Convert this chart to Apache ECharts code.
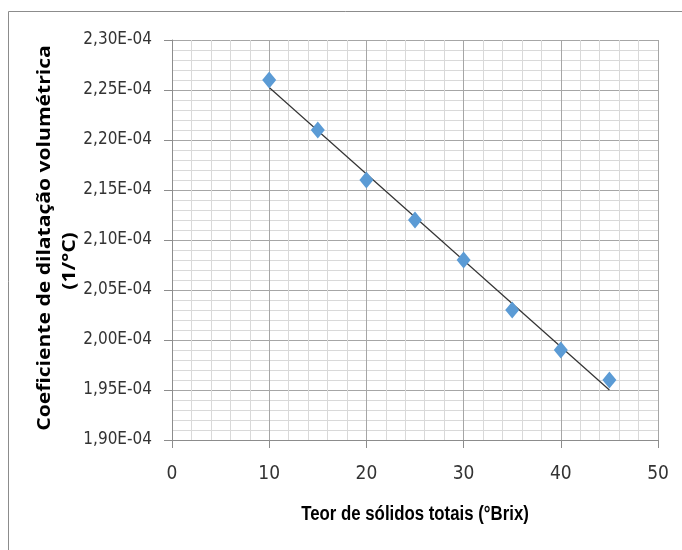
<!DOCTYPE html>
<html><head><meta charset="utf-8">
<script src="https://cdn.jsdelivr.net/npm/echarts@6/dist/echarts.min.js"></script>
<style>html,body{margin:0;padding:0;background:#fff}#c{width:682px;height:550px}</style>
</head><body><div id="c"></div>
<script>
// Teor de sólidos totais (°Brix)
const brix = [10, 15, 20, 25, 30, 35, 40, 45];
// Coeficiente de dilatação volumétrica, in units of 1E-04 (1/°C)
const coef = [2.26, 2.21, 2.16, 2.12, 2.08, 2.03, 1.99, 1.96];
const xTicks = [0, 10, 20, 30, 40, 50];
const yTicks = [1.90, 1.95, 2.00, 2.05, 2.10, 2.15, 2.20, 2.25, 2.30];
const yTitle1 = 'Coeficiente de dilatação volumétrica';
const yTitle2 = '(1/°C)';
const xTitle = 'Teor de sólidos totais (°Brix)';

// linear trendline (least squares) from the data
const n = brix.length;
const mx = brix.reduce((a, b) => a + b, 0) / n;
const my = coef.reduce((a, b) => a + b, 0) / n;
let sxy = 0, sxx = 0;
for (let i = 0; i < n; i++) { sxy += (brix[i] - mx) * (coef[i] - my); sxx += (brix[i] - mx) ** 2; }
const slope = sxy / sxx, icpt = my - slope * mx;
const xs0 = brix[0], xs1 = brix[n - 1];
const trend = [[xs0, icpt + slope * xs0], [xs1, icpt + slope * xs1]];

const tickFont = '"DejaVu Sans Condensed", "Liberation Sans Narrow", sans-serif';
const chart = echarts.init(document.getElementById('c'), null, {renderer: 'canvas'});
chart.setOption({
  animation: false,
  grid: {left: 172, top: 40, width: 486, height: 400, containLabel: false},
  xAxis: {
    type: 'value', min: xTicks[0], max: xTicks[xTicks.length - 1], interval: 10,
    axisLine: {show: true, lineStyle: {color: '#8c8c8c', width: 1}},
    axisTick: {show: true, length: 8, lineStyle: {color: '#8c8c8c'}},
    axisLabel: {color: '#333', fontFamily: tickFont, fontSize: 19, margin: 25},
    splitLine: {show: true, lineStyle: {color: '#a6a6a6', width: 1}},
    minorTick: {show: false, splitNumber: 5},
    minorSplitLine: {show: true, lineStyle: {color: '#d9d9d9', width: 1}}
  },
  yAxis: {
    type: 'value', min: yTicks[0], max: yTicks[yTicks.length - 1], interval: 0.05,
    axisLine: {show: true, lineStyle: {color: '#8c8c8c', width: 1}},
    axisTick: {show: true, length: 8, lineStyle: {color: '#8c8c8c'}},
    axisLabel: {color: '#333', fontFamily: tickFont, fontSize: 17, margin: 20,
      formatter: v => v.toFixed(2).replace('.', ',') + 'E-04'},
    splitLine: {show: true, lineStyle: {color: '#a6a6a6', width: 1}},
    minorTick: {show: false, splitNumber: 5},
    minorSplitLine: {show: true, lineStyle: {color: '#d9d9d9', width: 1}}
  },
  series: [
    {type: 'line', data: trend, symbol: 'none', silent: true,
     lineStyle: {color: '#333333', width: 1.2}, z: 2},
    {type: 'scatter', data: brix.map((x, i) => [x, coef[i]]), symbol: 'diamond',
     symbolSize: [14, 17], itemStyle: {color: '#5b9bd5', opacity: 1}, z: 3}
  ],
  graphic: [
    {type: 'rect', shape: {x: 8.5, y: 11.5, width: 700, height: 600}, silent: true,
     style: {fill: 'none', stroke: '#8c8c8c', lineWidth: 1}, z: -1},
    {type: 'text', x: 45, y: 238, rotation: Math.PI / 2, scaleX: 1.24,
     style: {text: yTitle1, font: 'bold 17px "Open Sans", sans-serif', fill: '#000',
       align: 'center', verticalAlign: 'middle'}},
    {type: 'text', x: 70, y: 261, rotation: Math.PI / 2, scaleX: 1.24,
     style: {text: yTitle2, font: 'bold 17px "Open Sans", sans-serif', fill: '#000',
       align: 'center', verticalAlign: 'middle'}},
    {type: 'text', x: 415, y: 514, scaleX: 0.84,
     style: {text: xTitle, font: 'bold 20px "Liberation Sans", sans-serif', fill: '#000',
       align: 'center', verticalAlign: 'middle'}}
  ]
});
</script></body></html>
